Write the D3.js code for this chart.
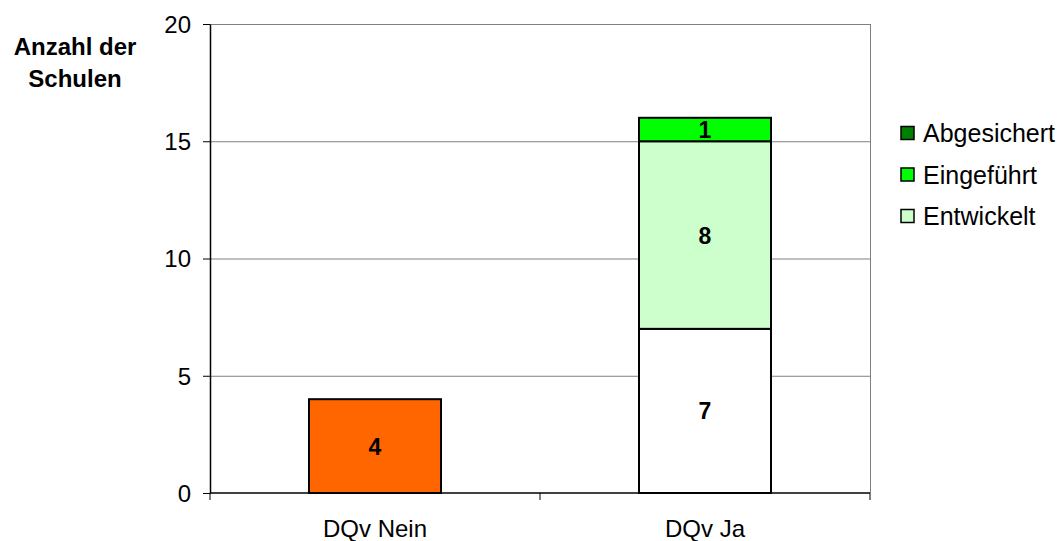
<!DOCTYPE html>
<html>
<head>
<meta charset="utf-8">
<script src="https://cdn.jsdelivr.net/npm/d3@7"></script>
<style>
  html, body { margin: 0; padding: 0; background: #fff; }
  svg { display: block; font-family: Arial, "Liberation Sans", sans-serif; }
</style>
</head>
<body>
<svg id="chart" width="1062" height="541"></svg>
<script>
// Schulen nach Stand der Qualitätsentwicklung
const categories = ["DQv Nein", "DQv Ja"];
const ohneDqvValues = [4, 0];
const offenValues = [0, 7];
const entwickeltValues = [0, 8];
const eingefuehrtValues = [0, 1];
const abgesichertValues = [0, 0];
const yTickValues = [0, 5, 10, 15, 20];

const seriesKeys = ["ohne", "offen", "Entwickelt", "Eingeführt", "Abgesichert"];
const seriesColors = {
  ohne: "#FF6600",
  offen: "#FFFFFF",
  Entwickelt: "#CCFFCC",
  "Eingeführt": "#00FF00",
  Abgesichert: "#008000"
};
const legendKeys = ["Abgesichert", "Eingeführt", "Entwickelt"];

const rows = categories.map((c, i) => ({
  category: c,
  ohne: ohneDqvValues[i],
  offen: offenValues[i],
  Entwickelt: entwickeltValues[i],
  "Eingeführt": eingefuehrtValues[i],
  Abgesichert: abgesichertValues[i]
}));

const svg = d3.select("#chart");
const plot = { left: 210, right: 870, top: 24, bottom: 493 };
const FONT = "Arial, 'Liberation Sans', sans-serif";

const x = d3.scaleBand()
  .domain(categories)
  .range([plot.left, plot.right])
  .paddingInner(0.6)
  .paddingOuter(0.3);

const y = d3.scaleLinear().domain([0, 20]).range([plot.bottom, plot.top]);

// gridlines and right frame
svg.append("g")
  .selectAll("line")
  .data(yTickValues.filter(v => v > 0))
  .join("line")
  .attr("x1", plot.left).attr("x2", plot.right)
  .attr("y1", d => y(d) + 0.5).attr("y2", d => y(d) + 0.5)
  .attr("stroke", "#808080").attr("stroke-width", 1);

svg.append("line")
  .attr("x1", plot.right + 0.5).attr("x2", plot.right + 0.5)
  .attr("y1", plot.top).attr("y2", plot.bottom)
  .attr("stroke", "#808080").attr("stroke-width", 1);

// stacked bars
const stacked = d3.stack().keys(seriesKeys)(rows);

const layers = svg.append("g")
  .selectAll("g")
  .data(stacked)
  .join("g")
  .attr("fill", d => seriesColors[d.key]);

layers.selectAll("rect")
  .data(d => d.filter(s => s[1] - s[0] > 0))
  .join("rect")
  .attr("x", d => x(d.data.category))
  .attr("width", x.bandwidth())
  .attr("y", d => y(d[1]))
  .attr("height", d => y(d[0]) - y(d[1]))
  .attr("stroke", "#000")
  .attr("stroke-width", 2);

// value labels
layers.selectAll("text")
  .data(d => d.filter(s => s[1] - s[0] > 0))
  .join("text")
  .attr("x", d => x(d.data.category) + x.bandwidth() / 2)
  .attr("y", d => (y(d[0]) + y(d[1])) / 2 + 8.5)
  .attr("text-anchor", "middle")
  .attr("fill", "#000")
  .attr("font-weight", "bold")
  .attr("font-size", 23)
  .text(d => d[1] - d[0]);

// y axis
const yAxis = svg.append("g")
  .attr("transform", `translate(${plot.left},0)`)
  .call(d3.axisLeft(y).tickValues(yTickValues).tickSize(7).tickSizeOuter(0));
yAxis.select(".domain").attr("stroke", "#000").attr("stroke-width", 1.5);
yAxis.selectAll(".tick line").attr("stroke", "#000");
yAxis.selectAll(".tick text")
  .attr("x", -19)
  .attr("dy", "0.35em")
  .attr("font-size", 24)
  .attr("font-family", FONT)
  .attr("fill", "#000");

// x axis with separators between categories
const xAxis = svg.append("g")
  .attr("transform", `translate(0,${plot.bottom})`);
xAxis.append("line")
  .attr("x1", plot.left).attr("x2", plot.right)
  .attr("y1", 0).attr("y2", 0)
  .attr("stroke", "#000").attr("stroke-width", 1.5);
const sepPositions = [plot.left, ...categories.slice(1).map(c => x(c) - x.step() * x.paddingInner() / 2), plot.right];
xAxis.selectAll("line.sep")
  .data(sepPositions)
  .join("line")
  .attr("class", "sep")
  .attr("x1", d => d).attr("x2", d => d)
  .attr("y1", 0).attr("y2", 7)
  .attr("stroke", "#000");
xAxis.selectAll("text")
  .data(categories)
  .join("text")
  .attr("x", d => x(d) + x.bandwidth() / 2)
  .attr("y", 44)
  .attr("text-anchor", "middle")
  .attr("font-size", 24)
  .attr("fill", "#000")
  .text(d => d);

// y axis title
const yTitle = svg.append("text")
  .attr("text-anchor", "middle")
  .attr("font-weight", "bold")
  .attr("font-size", 24)
  .attr("fill", "#000");
yTitle.append("tspan").attr("x", 75).attr("y", 55).text("Anzahl der");
yTitle.append("tspan").attr("x", 75).attr("y", 87).text("Schulen");

// legend
const legend = svg.append("g")
  .selectAll("g")
  .data(legendKeys)
  .join("g")
  .attr("transform", (d, i) => `translate(901,${133 + i * 41.5})`);
legend.append("rect")
  .attr("x", 0).attr("y", -6.5)
  .attr("width", 13).attr("height", 13)
  .attr("fill", d => seriesColors[d])
  .attr("stroke", "#000").attr("stroke-width", 1.5);
legend.append("text")
  .attr("x", 22).attr("y", 9)
  .attr("font-size", 25)
  .attr("fill", "#000")
  .text(d => d);
</script>
</body>
</html>
